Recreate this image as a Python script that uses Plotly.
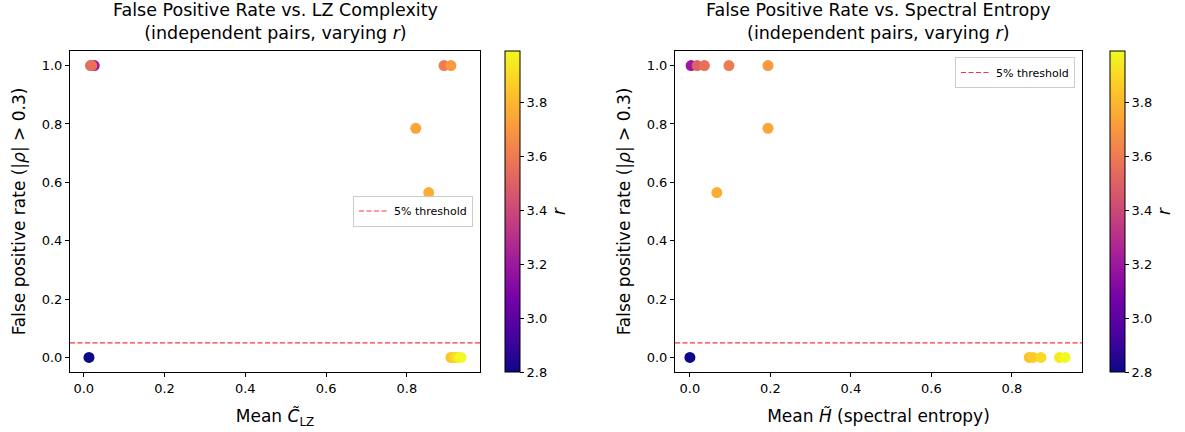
import plotly.graph_objects as go

# ---- data ----
r_values = [2.8, 3.2, 3.5, 3.56, 3.6, 3.7, 3.74, 3.77, 3.83, 3.86, 3.9, 3.95, 3.99]
mean_lz = [0.013, 0.026, 0.017, 0.020, 0.892, 0.909, 0.822, 0.854, 0.909, 0.915, 0.921, 0.928, 0.934]
fpr_lz = [0.0, 1.0, 1.0, 1.0, 1.0, 1.0, 0.785, 0.565, 0.0, 0.0, 0.0, 0.0, 0.0]
mean_h = [0.0, 0.003, 0.018, 0.036, 0.097, 0.194, 0.194, 0.067, 0.843, 0.852, 0.872, 0.918, 0.932]
fpr_h = [0.0, 1.0, 1.0, 1.0, 1.0, 1.0, 0.785, 0.565, 0.0, 0.0, 0.0, 0.0, 0.0]
threshold = 0.05
cbar_ticks = [2.8, 3.0, 3.2, 3.4, 3.6, 3.8]
x_ticks = [0.0, 0.2, 0.4, 0.6, 0.8]
y_ticks = [0.0, 0.2, 0.4, 0.6, 0.8, 1.0]

W, H = 1185, 432
FONT = "DejaVu Sans"

def px_x(p):
    return p / W

def px_y(p):
    return 1 - p / H

xr1 = [-0.034, 0.981]
xr2 = [-0.037, 0.974]
yr = [-0.05, 1.05]

fig = go.Figure()

def add_panel(xv, yv, xa, ya, xr, cb_left, legend_name):
    fig.add_trace(go.Scatter(
        x=[xr[0], xr[1]], y=[threshold, threshold], mode="lines",
        line=dict(color="rgba(255,0,0,0.8)", width=1.2, dash="5px,2.5px"),
        name="5% threshold", xaxis=xa, yaxis=ya, legend=legend_name,
        showlegend=True, hoverinfo="skip"))
    fig.add_trace(go.Scatter(
        x=xv, y=yv, mode="markers", xaxis=xa, yaxis=ya, showlegend=False,
        marker=dict(size=11, color=r_values, colorscale="Plasma",
                    cmin=min(r_values), cmax=max(r_values),
                    line=dict(width=0),
                    colorbar=dict(
                        x=px_x(cb_left), xanchor="left", xref="paper", xpad=0,
                        y=px_y(372), yanchor="bottom", yref="paper", ypad=0,
                        len=(372 - 51) / H, lenmode="fraction",
                        thickness=15, outlinewidth=1, outlinecolor="black",
                        tickvals=cbar_ticks, ticktext=[f"{t:.1f}" for t in cbar_ticks],
                        ticks="outside", ticklen=4, tickcolor="black",
                        tickfont=dict(family=FONT, size=13, color="black"),
                        title=dict(text="<i>r</i>", side="right",
                                   font=dict(family=FONT, size=17, color="black")),
                    ))))

add_panel(mean_lz, fpr_lz, "x", "y", xr1, 505, "legend")
add_panel(mean_h, fpr_h, "x2", "y2", xr2, 1110, "legend2")

axis_common = dict(showline=True, linecolor="black", linewidth=1, mirror=True,
                   ticks="outside", ticklen=4, tickcolor="black", showgrid=False,
                   zeroline=False, tickfont=dict(family=FONT, size=13, color="black"))

fig.update_layout(
    width=W, height=H, margin=dict(l=0, r=0, t=0, b=0, autoexpand=False),
    paper_bgcolor="white", plot_bgcolor="white",
    font=dict(family=FONT, color="black"),
    xaxis=dict(domain=[px_x(70), px_x(480)], range=xr1, tickvals=x_ticks,
               ticktext=[f"{t:.1f}" for t in x_ticks], anchor="y",
               title=dict(text="Mean <i>C̃</i><sub>LZ</sub>", font=dict(size=17), standoff=15),
               **axis_common),
    yaxis=dict(domain=[px_y(372), px_y(51)], range=yr, tickvals=y_ticks,
               ticktext=[f"{t:.1f}" for t in y_ticks], anchor="x",
               title=dict(text="False positive rate (|<i>ρ</i>| > 0.3)", font=dict(size=17), standoff=11),
               **axis_common),
    xaxis2=dict(domain=[px_x(675), px_x(1082)], range=xr2, tickvals=x_ticks,
                ticktext=[f"{t:.1f}" for t in x_ticks], anchor="y2",
                title=dict(text="Mean <i>H̃</i> (spectral entropy)", font=dict(size=17), standoff=15),
                **axis_common),
    yaxis2=dict(domain=[px_y(372), px_y(51)], range=yr, tickvals=y_ticks,
                ticktext=[f"{t:.1f}" for t in y_ticks], anchor="x2",
                title=dict(text="False positive rate (|<i>ρ</i>| > 0.3)", font=dict(size=17), standoff=11),
                **axis_common),
    legend=dict(x=px_x(473), xanchor="right", y=px_y(211), yanchor="middle",
                bgcolor="rgba(255,255,255,0.8)", bordercolor="#cccccc", borderwidth=1,
                font=dict(family=FONT, size=11), itemwidth=30,
                tracegroupgap=0),
    legend2=dict(x=px_x(1075), xanchor="right", y=px_y(57), yanchor="top",
                 bgcolor="rgba(255,255,255,0.8)", bordercolor="#cccccc", borderwidth=1,
                 font=dict(family=FONT, size=11), itemwidth=30,
                 tracegroupgap=0),
)

titles = [
    ("False Positive Rate vs. LZ Complexity<br>(independent pairs, varying <i>r</i>)", (70 + 480) / 2),
    ("False Positive Rate vs. Spectral Entropy<br>(independent pairs, varying <i>r</i>)", (675 + 1082) / 2),
]
for text, cx in titles:
    fig.add_annotation(text=text, x=px_x(cx), y=px_y(45), xref="paper", yref="paper",
                       xanchor="center", yanchor="bottom", showarrow=False,
                       font=dict(family=FONT, size=17.5, color="black"))

fig.write_html("out.html")
